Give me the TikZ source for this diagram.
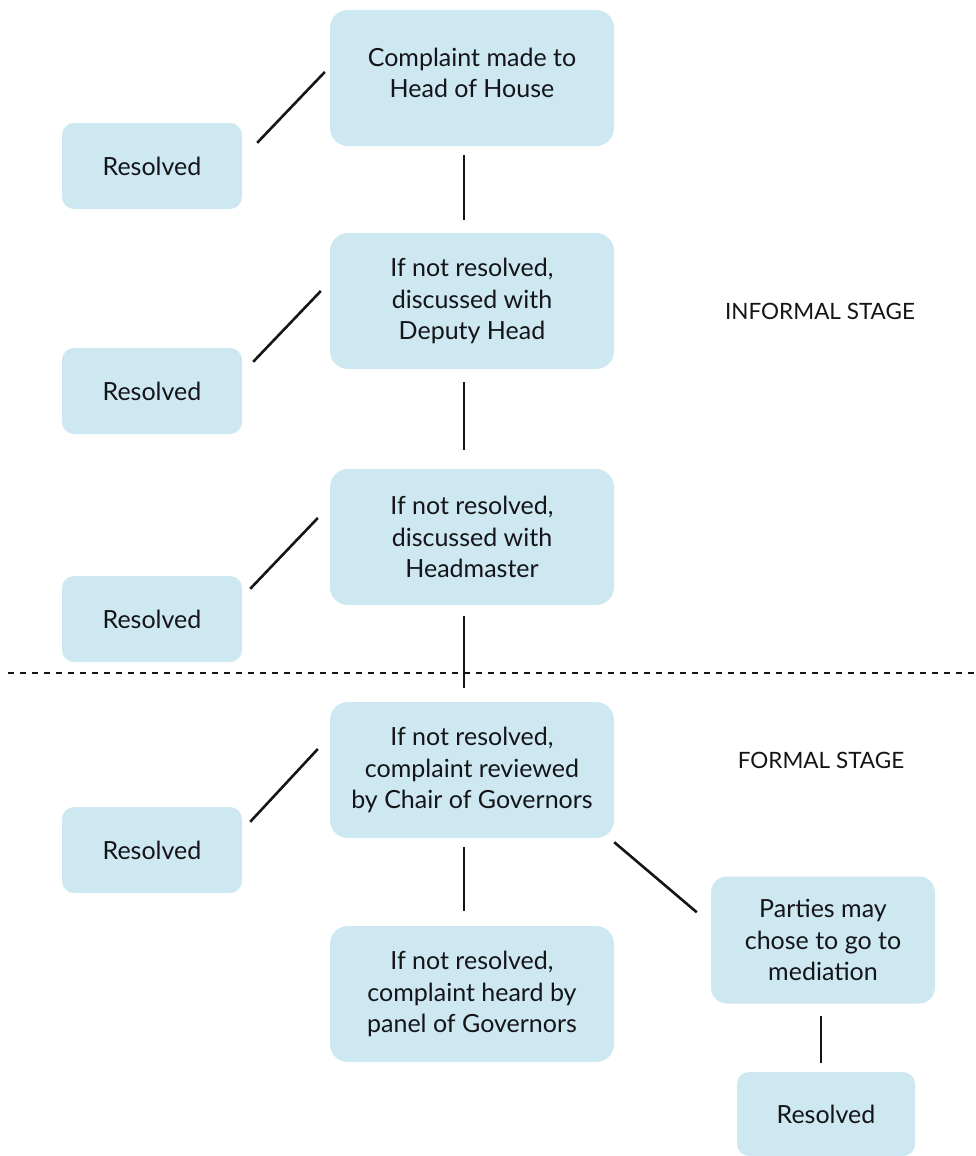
\documentclass[tikz,border=0pt]{standalone}
\usepackage{fontspec}
\setmainfont{Lato}
\usetikzlibrary{calc}
\definecolor{boxblue}{RGB}{205,232,241}
\definecolor{ink}{RGB}{20,20,25}
\tikzset{
  mainbox/.style={fill=boxblue, rounded corners=18pt, minimum width=284pt, minimum height=136pt,
    align=center, font=\fontsize{25}{31.5}\selectfont, text=ink, inner sep=0pt},
  resbox/.style={fill=boxblue, rounded corners=12pt, minimum width=180pt, minimum height=86pt,
    align=center, font=\fontsize{25}{31.5}\selectfont, text=ink, inner sep=0pt},
  medbox/.style={fill=boxblue, rounded corners=16pt, minimum width=224pt, minimum height=127pt,
    align=center, font=\fontsize{25}{31.5}\selectfont, text=ink, inner sep=0pt},
  conn/.style={draw=ink, line width=2.6pt},
  stagelabel/.style={font=\fontsize{22.5}{26}\selectfont, text=ink, inner sep=0pt},
}
\begin{document}
\begin{tikzpicture}[x=1pt, y=-1pt]
\useasboundingbox (0,0) rectangle (976,1156);
% main column
\node[mainbox, text depth=10pt] (b1) at (472,78) {Complaint made to\\Head of House};
\node[mainbox] (b2) at (472,301) {If not resolved,\\discussed with\\Deputy Head};
\node[mainbox] (b3) at (472,537) {If not resolved,\\discussed with\\Headmaster};
\node[mainbox] (b4) at (472,770) {If not resolved,\\complaint reviewed\\by Chair of Governors};
\node[mainbox] (b5) at (472,994) {If not resolved,\\complaint heard by\\panel of Governors};
% resolved boxes
\node[resbox] (r1) at (152,166) {Resolved};
\node[resbox] (r2) at (152,391) {Resolved};
\node[resbox] (r3) at (152,619) {Resolved};
\node[resbox] (r4) at (152,850) {Resolved};
% mediation branch
\node[medbox] (m) at (823,940) {Parties may\\chose to go to\\mediation};
\node[resbox, minimum width=178pt, minimum height=84pt] (r5) at (826,1114) {Resolved};
% stage labels
\node[stagelabel] (informal) at (820,311) {INFORMAL STAGE};
\node[stagelabel] (formal) at (821,760) {FORMAL STAGE};
% dashed separator
\coordinate (dl) at (8,673);
\coordinate (dr) at (976,673);
\draw[draw=ink, line width=2pt, dash pattern=on 6pt off 6pt] (dl) -- (dr);
% vertical connectors
\draw[conn] ($(b1.south)+(-8,9)$) -- ($(b2.north)+(-8,-13)$);
\draw[conn] ($(b2.south)+(-8,13)$) -- ($(b3.north)+(-8,-19)$);
\draw[conn] ($(b3.south)+(-8,11)$) -- ($(b4.north)+(-8,-14)$);
\draw[conn] ($(b4.south)+(-8,9)$) -- ($(b5.north)+(-8,-15)$);
\draw[conn] ($(m.south)+(-2,12)$) -- ($(r5.north)+(-5,-9)$);
% diagonal connectors
\draw[conn] ($(r1.north east)+(15,20)$) -- ($(b1.west)+(-5,-6)$);
\draw[conn] ($(r2.north east)+(11,14)$) -- ($(b2.west)+(-9,-10)$);
\draw[conn] ($(r3.north east)+(8,13)$) -- ($(b3.west)+(-12,-19)$);
\draw[conn] ($(r4.north east)+(8,15)$) -- ($(b4.west)+(-12,-21)$);
\draw[conn] ($(b4.south east)+(0,4)$) -- ($(m.north west)+(-14,36)$);
\end{tikzpicture}
\end{document}
